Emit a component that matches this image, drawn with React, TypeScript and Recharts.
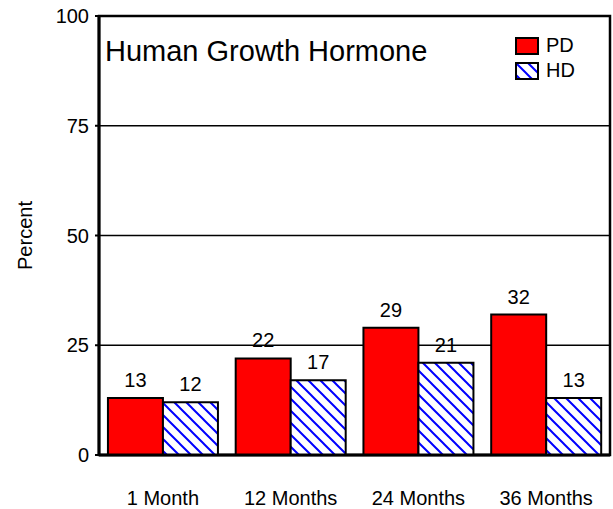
import React from 'react';
import { BarChart, Bar, XAxis, YAxis, CartesianGrid, LabelList, ReferenceArea } from 'recharts';

const categories = ['1 Month', '12 Months', '24 Months', '36 Months'];
const pdValues = [13, 22, 29, 32];
const hdValues = [12, 17, 21, 13];
const yTicks = [0, 25, 50, 75, 100];

const FONT = '"Liberation Sans", Arial, sans-serif';

// hatch "\" lines for the HD series
const Hatch: React.FC<{ id: string }> = ({ id }) => (
  <pattern id={id} patternUnits="userSpaceOnUse" width={12} height={12}>
    <rect width={12} height={12} fill="#fff" />
    <path d="M-3,-3 L15,15 M-3,9 L3,15 M9,-3 L15,3" stroke="#0000ff" strokeWidth={2} />
  </pattern>
);

const LegendBox = () => (
  <div style={{ position: 'absolute', left: 515, top: 37, fontSize: 20, color: '#000' }}>
    <svg width={0} height={0} style={{ position: 'absolute' }}>
      <defs>
        <Hatch id="hatchLegend" />
      </defs>
    </svg>
    <div style={{ display: 'flex', alignItems: 'center', height: 17, marginBottom: 8 }}>
      <svg width={24} height={18}>
        <rect x={1} y={1} width={22} height={16} fill="#ff0000" stroke="#000" strokeWidth={2} />
      </svg>
      <span style={{ marginLeft: 7, lineHeight: '17px' }}>PD</span>
    </div>
    <div style={{ display: 'flex', alignItems: 'center', height: 17 }}>
      <svg width={24} height={18}>
        <rect x={1} y={1} width={22} height={16} fill="url(#hatchLegend)" stroke="#000" strokeWidth={2} />
      </svg>
      <span style={{ marginLeft: 7, lineHeight: '17px' }}>HD</span>
    </div>
  </div>
);

export default function App() {
  const data = categories.map((name, i) => ({ name, PD: pdValues[i], HD: hdValues[i] }));

  return (
    <div style={{ position: 'absolute', left: 0, top: 0, width: 613, height: 509, background: '#fff', fontFamily: FONT }}>
      <BarChart
        width={613}
        height={509}
        data={data}
        margin={{ top: 16, right: 3, bottom: 0, left: 0 }}
        barCategoryGap="7%"
        barGap={0}
      >
        <defs>
          <Hatch id="hatchHD" />
        </defs>
        <CartesianGrid vertical={false} stroke="#000" strokeWidth={1.5} />
        <ReferenceArea y1={0} y2={100} fill="none" stroke="#000" strokeWidth={2.5} />
        <Bar dataKey="PD" fill="#ff0000" stroke="#000" strokeWidth={2} isAnimationActive={false}>
          <LabelList dataKey="PD" position="top" offset={11} fill="#000" fontSize={20} fontFamily={FONT} />
        </Bar>
        <Bar dataKey="HD" fill="url(#hatchHD)" stroke="#000" strokeWidth={2} isAnimationActive={false}>
          <LabelList dataKey="HD" position="top" offset={11} fill="#000" fontSize={20} fontFamily={FONT} />
        </Bar>
        <XAxis
          dataKey="name"
          height={54}
          tickLine={false}
          tickSize={0}
          tickMargin={36}
          axisLine={{ stroke: '#000', strokeWidth: 3 }}
          tick={{ fill: '#000', fontSize: 20, fontFamily: FONT }}
        />
        <YAxis
          width={99}
          domain={[0, 100]}
          ticks={yTicks}
          interval={0}
          tickSize={4}
          tickMargin={6}
          tickLine={{ stroke: '#000', strokeWidth: 2 }}
          axisLine={{ stroke: '#000', strokeWidth: 3 }}
          tick={{ fill: '#000', fontSize: 20, fontFamily: FONT }}
          label={{
            value: 'Percent',
            angle: -90,
            position: 'insideLeft',
            offset: 25,
            fill: '#000',
            fontSize: 20,
            fontFamily: FONT,
            style: { textAnchor: 'middle' },
          }}
        />
      </BarChart>
      <LegendBox />
      <div
        style={{
          position: 'absolute',
          left: 105,
          top: 37,
          fontSize: 29,
          lineHeight: 1,
          color: '#000',
          whiteSpace: 'nowrap',
        }}
      >
        Human Growth Hormone
      </div>
    </div>
  );
}
